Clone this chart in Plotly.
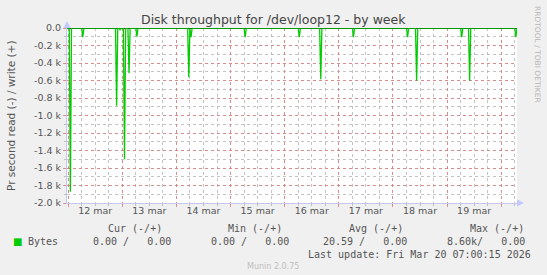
import plotly.graph_objects as go
import pandas as pd

# ---- data ----
range_start = "2026-03-11 23:30"
range_end = "2026-03-20 07:00"
spike_times = ["2026-03-12 01:00", "2026-03-12 06:30", "2026-03-12 21:30", "2026-03-12 23:00",
               "2026-03-13 01:00", "2026-03-13 03:00", "2026-03-13 06:30", "2026-03-14 05:30",
               "2026-03-14 06:30", "2026-03-15 06:30", "2026-03-16 06:30", "2026-03-16 16:00",
               "2026-03-17 06:30", "2026-03-18 06:30", "2026-03-18 10:30", "2026-03-19 06:30",
               "2026-03-19 10:00", "2026-03-20 06:30"]
read_values = [1870, 106, 888, 20, 1501, 518, 99, 564, 106, 106, 106, 587, 106, 106, 602, 106, 602, 106]
day_ticks = ["2026-03-%02d" % d for d in range(12, 21)]
day_labels = ["12 mar", "13 mar", "14 mar", "15 mar", "16 mar", "17 mar", "18 mar", "19 mar"]
y_tickvals = [0, -200, -400, -600, -800, -1000, -1200, -1400, -1600, -1800, -2000]
y_ticktext = ["0.0", "-0.2 k", "-0.4 k", "-0.6 k", "-0.8 k", "-1.0 k", "-1.2 k", "-1.4 k", "-1.6 k", "-1.8 k", "-2.0 k"]
legend_headers = ["Cur (-/+)", "Min (-/+)", "Avg (-/+)", "Max (-/+)"]
legend_values = ["0.00 /   0.00", "0.00 /   0.00", "20.59 /   0.00", "8.60k/   0.00"]
series_name = "Bytes"
last_update = "Last update: Fri Mar 20 07:00:15 2026"

# ---- build series (zero baseline with read spikes, shown negative) ----
half = pd.Timedelta(minutes=30)
xs = [pd.Timestamp(range_start)]
ys = [0]
for t, v in zip(spike_times, read_values):
    ts = pd.Timestamp(t)
    xs += [ts - half, ts, ts + half]
    ys += [0, -v, 0]
xs.append(pd.Timestamp(range_end))
ys.append(0)

W, H = 547, 275
L, R, T, B = 67, 30, 28, 72
PW = W - L - R
PH = H - T - B

def px(x):
    return (x - L) / PW

def py(y):
    return (H - B - y) / PH

GREEN = "#00CC00"
TXT = "#555555"
MAJ = "rgba(225,120,120,0.75)"
MIN = "rgba(180,180,180,0.8)"
AX = "#C4C8F0"

fig = go.Figure()
fig.add_trace(go.Scatter(x=xs, y=ys, mode="lines", line=dict(color=GREEN, width=1.3),
                         hoverinfo="skip", showlegend=False))
# labels axis (noon of each day)
noon = [pd.Timestamp(d) + pd.Timedelta(hours=12) for d in day_ticks[:-1]]
fig.add_trace(go.Scatter(x=noon, y=[None] * len(noon), xaxis="x2", showlegend=False, hoverinfo="skip"))

fig.update_layout(
    width=W, height=H,
    margin=dict(l=L, r=R, t=T, b=B),
    paper_bgcolor="#F0F0F0", plot_bgcolor="#FFFFFF",
    font=dict(family="DejaVu Sans", size=9, color=TXT),
    showlegend=False,
    xaxis=dict(range=[range_start, range_end], tickmode="array", tickvals=day_ticks,
               ticktext=[""] * len(day_ticks), showgrid=True, gridcolor=MAJ, griddash="dot",
               gridwidth=1, ticks="outside", ticklen=3, tickcolor=MAJ,
               showline=True, linecolor=AX, linewidth=1, zeroline=False,
               minor=dict(dtick=6 * 3600 * 1000, tick0="2026-03-12", showgrid=True,
                          gridcolor=MIN, griddash="dot", ticks="outside", ticklen=2,
                          tickcolor=MIN)),
    xaxis2=dict(range=[range_start, range_end], overlaying="x", side="bottom",
                tickmode="array", tickvals=noon, ticktext=day_labels, showgrid=False,
                ticks="", showline=False, zeroline=False, tickfont=dict(size=9.5, color=TXT)),
    yaxis=dict(range=[-2000, 0], tickmode="array", tickvals=y_tickvals, ticktext=y_ticktext,
               showgrid=True, gridcolor=MAJ, griddash="dot", ticks="outside", ticklen=3,
               tickcolor=MAJ, showline=True, linecolor=AX, zeroline=True,
               zerolinecolor="#000000", zerolinewidth=1, tickfont=dict(size=9.5, color=TXT),
               minor=dict(dtick=100, showgrid=True, gridcolor=MIN, griddash="dot",
                          ticks="outside", ticklen=2, tickcolor=MIN)),
)

# arrows on axes
fig.add_shape(type="path", xref="paper", yref="paper", xsizemode="pixel", ysizemode="pixel",
              xanchor=0, yanchor=1, path="M -3.5,0 L 3.5,0 L 0,7 Z",
              fillcolor="#C0C8FF", line=dict(width=0))
fig.add_shape(type="path", xref="paper", yref="paper", xsizemode="pixel", ysizemode="pixel",
              xanchor=1, yanchor=0, path="M 0,-3.5 L 0,3.5 L 7,0 Z",
              fillcolor="#C0C8FF", line=dict(width=0))

ann = []
ann.append(dict(text="Disk throughput for /dev/loop12 - by week", x=px(273), y=py(19),
                xanchor="center", yanchor="middle", font=dict(size=12.5, color="#444444")))
ann.append(dict(text="Pr second read (-) / write (+)", x=px(11), y=py(116), textangle=-90,
                xanchor="center", yanchor="middle", font=dict(size=10.5, color=TXT)))
ann.append(dict(text="RRDTOOL / TOBI OETIKER", x=px(538), y=py(54), textangle=90,
                xanchor="center", yanchor="middle", font=dict(size=7.5, color="#B8B8B8")))
mono = dict(family="DejaVu Sans Mono", size=10, color=TXT)
head_right = [164, 284, 405, 526]
val_right = [173, 291, 409, 527]
for txt, xr in zip(legend_headers, head_right):
    ann.append(dict(text=txt, x=px(xr), y=py(228.5), xanchor="right", yanchor="middle", font=mono))
for txt, xr in zip(legend_values, val_right):
    ann.append(dict(text=txt.replace(" ", "&nbsp;"), x=px(xr), y=py(241.5), xanchor="right",
                    yanchor="middle", font=mono))
ann.append(dict(text=series_name, x=px(26), y=py(241.5), xanchor="left", yanchor="middle", font=mono))
ann.append(dict(text="■", x=px(17), y=py(241), xanchor="center", yanchor="middle",
                font=dict(family="DejaVu Sans", size=10, color=GREEN)))
ann.append(dict(text=last_update, x=px(533), y=py(254), xanchor="right", yanchor="middle", font=mono))
ann.append(dict(text="Munin 2.0.75", x=px(273), y=py(266), xanchor="center", yanchor="middle",
                font=dict(family="DejaVu Sans", size=8, color="#C0C0C0")))
for a in ann:
    a.update(xref="paper", yref="paper", showarrow=False)
fig.update_layout(annotations=ann)

fig.write_html("out.html")
